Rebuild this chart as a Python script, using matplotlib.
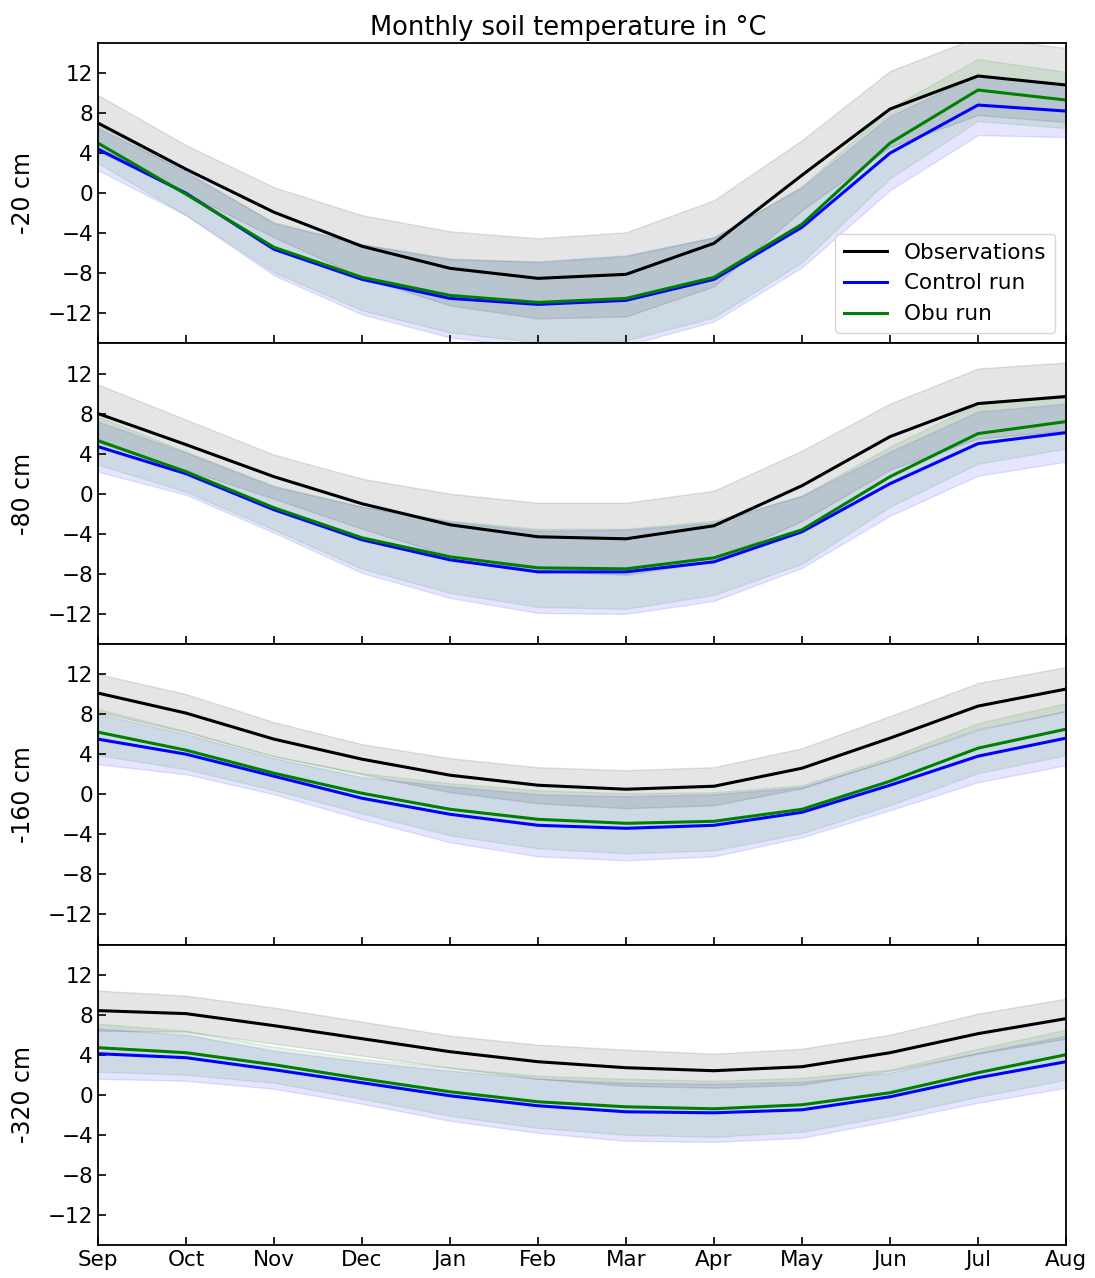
import numpy as np
import matplotlib
matplotlib.use('Agg')
import matplotlib.pyplot as plt

#month labels (hydrological year Sep-Aug)
MONTHS = ['Sep', 'Oct', 'Nov', 'Dec', 'Jan', 'Feb', 'Mar', 'Apr', 'May', 'Jun', 'Jul', 'Aug']
DEPTHS = ['-20 cm', '-80 cm', '-160 cm', '-320 cm']

#-20 cm
obs_20 = [7.0, 2.4, -1.9, -5.3, -7.5, -8.5, -8.1, -5.0, 1.8, 8.4, 11.7, 10.8]
obs_20_sd = [2.8, 2.4, 2.5, 3.1, 3.7, 4.0, 4.2, 4.3, 3.5, 3.8, 3.9, 3.7]
ctrl_20 = [4.4, 0.0, -5.6, -8.6, -10.5, -11.1, -10.7, -8.6, -3.4, 4.0, 8.8, 8.2]
ctrl_20_sd = [2.1, 2.2, 2.6, 3.5, 3.9, 4.3, 4.5, 4.2, 4.0, 3.7, 3.0, 2.6]
obu_20 = [5.0, -0.1, -5.4, -8.4, -10.2, -10.9, -10.5, -8.4, -3.1, 5.0, 10.3, 9.3]
obu_20_sd = [2.0, 2.1, 2.5, 3.3, 3.7, 4.0, 4.2, 4.0, 3.8, 3.5, 3.1, 2.8]

#-80 cm
obs_80 = [8.0, 4.9, 1.7, -1.0, -3.1, -4.3, -4.5, -3.2, 0.8, 5.7, 9.0, 9.7]
obs_80_sd = [2.9, 2.5, 2.2, 2.5, 3.1, 3.4, 3.6, 3.5, 3.5, 3.3, 3.5, 3.4]
ctrl_80 = [4.7, 2.0, -1.6, -4.6, -6.6, -7.8, -7.8, -6.8, -3.8, 1.0, 5.0, 6.1]
ctrl_80_sd = [2.5, 2.1, 2.3, 3.3, 3.8, 4.1, 4.2, 3.9, 3.6, 3.2, 3.2, 2.9]
obu_80 = [5.3, 2.2, -1.4, -4.4, -6.3, -7.4, -7.5, -6.4, -3.6, 1.7, 6.0, 7.2]
obu_80_sd = [2.4, 2.0, 2.2, 3.1, 3.6, 3.9, 4.0, 3.7, 3.4, 3.0, 3.0, 2.7]

#-160 cm
obs_160 = [10.1, 8.1, 5.5, 3.5, 1.9, 0.9, 0.5, 0.8, 2.6, 5.6, 8.8, 10.5]
obs_160_sd = [1.9, 1.9, 1.7, 1.5, 1.7, 1.8, 1.9, 1.9, 2.0, 2.2, 2.3, 2.2]
ctrl_160 = [5.5, 4.0, 1.8, -0.4, -2.0, -3.1, -3.4, -3.1, -1.8, 0.9, 3.8, 5.6]
ctrl_160_sd = [2.5, 2.0, 1.8, 2.1, 2.8, 3.1, 3.2, 3.1, 2.5, 2.5, 2.6, 2.7]
obu_160 = [6.2, 4.4, 2.1, 0.1, -1.5, -2.5, -2.9, -2.7, -1.5, 1.3, 4.6, 6.5]
obu_160_sd = [2.3, 1.9, 1.7, 2.0, 2.6, 2.9, 3.0, 2.9, 2.4, 2.4, 2.5, 2.6]

#-320 cm
obs_320 = [8.4, 8.1, 6.9, 5.6, 4.3, 3.3, 2.7, 2.4, 2.8, 4.2, 6.1, 7.6]
obs_320_sd = [2.0, 1.8, 1.8, 1.7, 1.6, 1.7, 1.8, 1.7, 1.8, 1.8, 2.0, 2.0]
ctrl_320 = [4.1, 3.7, 2.5, 1.2, -0.1, -1.1, -1.7, -1.8, -1.5, -0.2, 1.7, 3.3]
ctrl_320_sd = [2.5, 2.3, 1.9, 2.1, 2.5, 2.7, 2.9, 2.9, 2.8, 2.4, 2.5, 2.6]
obu_320 = [4.7, 4.2, 3.0, 1.6, 0.3, -0.7, -1.2, -1.4, -1.0, 0.2, 2.2, 4.0]
obu_320_sd = [2.4, 2.2, 1.8, 2.0, 2.4, 2.6, 2.8, 2.8, 2.7, 2.3, 2.4, 2.5]

obs = [obs_20, obs_80, obs_160, obs_320]
obs_sd = [obs_20_sd, obs_80_sd, obs_160_sd, obs_320_sd]
ctrl = [ctrl_20, ctrl_80, ctrl_160, ctrl_320]
ctrl_sd = [ctrl_20_sd, ctrl_80_sd, ctrl_160_sd, ctrl_320_sd]
obu = [obu_20, obu_80, obu_160, obu_320]
obu_sd = [obu_20_sd, obu_80_sd, obu_160_sd, obu_320_sd]

FS = 15.5

x = np.arange(len(MONTHS))

fig, axes = plt.subplots(4, 1, sharex=True, figsize=(10.95, 12.78), dpi=100)
fig.subplots_adjust(left=0.0895, right=0.9735, top=0.9664, bottom=0.0258, hspace=0)

for i, ax in enumerate(axes):
    o, osd = np.array(obs[i]), np.array(obs_sd[i])
    c, csd = np.array(ctrl[i]), np.array(ctrl_sd[i])
    b, bsd = np.array(obu[i]), np.array(obu_sd[i])

    #spread bands
    ax.fill_between(x, o - osd, o + osd, color='black', alpha=0.1)
    ax.fill_between(x, c - csd, c + csd, color='blue', alpha=0.1)
    ax.fill_between(x, b - bsd, b + bsd, color='green', alpha=0.1)

    #mean lines
    ax.plot(x, o, color='black', lw=2.2, label='Observations')
    ax.plot(x, c, color='blue', lw=2.2, label='Control run')
    ax.plot(x, b, color='green', lw=2.2, label='Obu run')

    ax.set_ylim(-15, 15)
    ax.set_yticks([-12, -8, -4, 0, 4, 8, 12])
    ax.set_xlim(0, 11)
    ax.set_ylabel(DEPTHS[i], fontsize=17, labelpad=9)
    ax.tick_params(direction='in', labelsize=FS, length=6, width=1.2)
    for s in ax.spines.values():
        s.set_linewidth(1.3)

axes[0].set_title('Monthly soil temperature in °C', fontsize=18.5, x=0.4855)
axes[0].legend(loc='lower right', fontsize=FS)
axes[-1].set_xticks(x)
axes[-1].set_xticklabels(MONTHS)

plt.savefig('out.png', dpi=100)
